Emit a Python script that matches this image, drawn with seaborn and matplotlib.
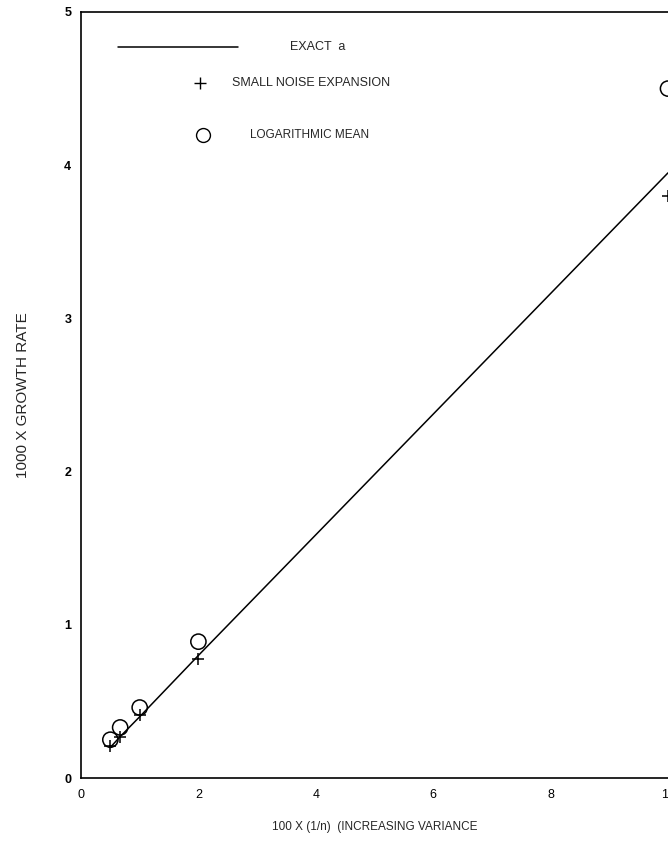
import matplotlib
matplotlib.use("Agg")
import matplotlib.pyplot as plt
import seaborn as sns
import pandas as pd

# 100 x (1/n) for n = 200, 150, 100, 50, 10
inv_n = [0.5, 0.667, 1.0, 2.0, 10.0]
exact_rate = [0.20, 0.27, 0.40, 0.80, 3.95]
small_noise = [0.21, 0.27, 0.41, 0.78, 3.80]
log_mean = [0.25, 0.33, 0.46, 0.89, 4.50]

x_ticks = [0, 2, 4, 6, 8, 10]
y_ticks = [0, 1, 2, 3, 4, 5]

df = pd.DataFrame({"x": inv_n, "exact": exact_rate,
                   "small": small_noise, "logm": log_mean})

sns.set_theme(style="white")
plt.rcParams["font.family"] = ["Liberation Sans", "DejaVu Sans"]

fig = plt.figure(figsize=(6.68, 8.55), dpi=100)
ax = fig.add_axes([81 / 668, 77 / 855, 587 / 668, 766 / 855])

sns.lineplot(data=df, x="x", y="exact", ax=ax, color="black", lw=1.1)
sns.scatterplot(data=df, x="x", y="small", ax=ax, marker="+", s=75,
                color="black", linewidth=1.1, clip_on=False)
sns.scatterplot(data=df, x="x", y="logm", ax=ax, marker="o", s=120,
                facecolors="none", edgecolor="black", linewidth=1.1,
                clip_on=False)

ax.set_xlim(0, 10)
ax.set_ylim(0, 5)
ax.set_xticks(x_ticks)
ax.set_yticks(y_ticks)
ax.set_xticklabels([str(t) for t in x_ticks], fontsize=9)
ax.set_yticklabels([str(t) for t in y_ticks], fontsize=9, fontweight="bold")
ax.tick_params(axis="both", direction="in", length=8, width=1, color="black",
               labelcolor="black")
ax.tick_params(axis="x", pad=8)
ax.tick_params(axis="y", pad=7)
for s in ax.spines.values():
    s.set_color("black")
    s.set_linewidth(1.2)
ax.spines["right"].set_visible(False)

ax.set_xlabel("100 X (1/n)  (INCREASING VARIANCE", fontsize=8.5, labelpad=14)
ax.set_ylabel("1000 X GROWTH RATE", fontsize=11)
ax.yaxis.set_label_coords(-0.087, 0.5)

# key in the upper-left corner
ax.plot([0.063, 0.267], [0.954, 0.954], transform=ax.transAxes,
        color="black", lw=1.1)
ax.text(0.356, 0.954, "EXACT  a", transform=ax.transAxes, fontsize=9,
        va="center", ha="left")
ax.plot([0.203], [0.907], transform=ax.transAxes, marker="+", ms=9,
        mew=1.0, color="black", ls="none")
ax.text(0.257, 0.907, "SMALL NOISE EXPANSION", transform=ax.transAxes,
        fontsize=9, va="center", ha="left")
ax.plot([0.208], [0.839], transform=ax.transAxes, marker="o", ms=10,
        mew=1.0, mfc="none", mec="black", ls="none")
ax.text(0.288, 0.839, "LOGARITHMIC MEAN", transform=ax.transAxes,
        fontsize=8.5, va="center", ha="left")

fig.savefig("out.png", dpi=100)
